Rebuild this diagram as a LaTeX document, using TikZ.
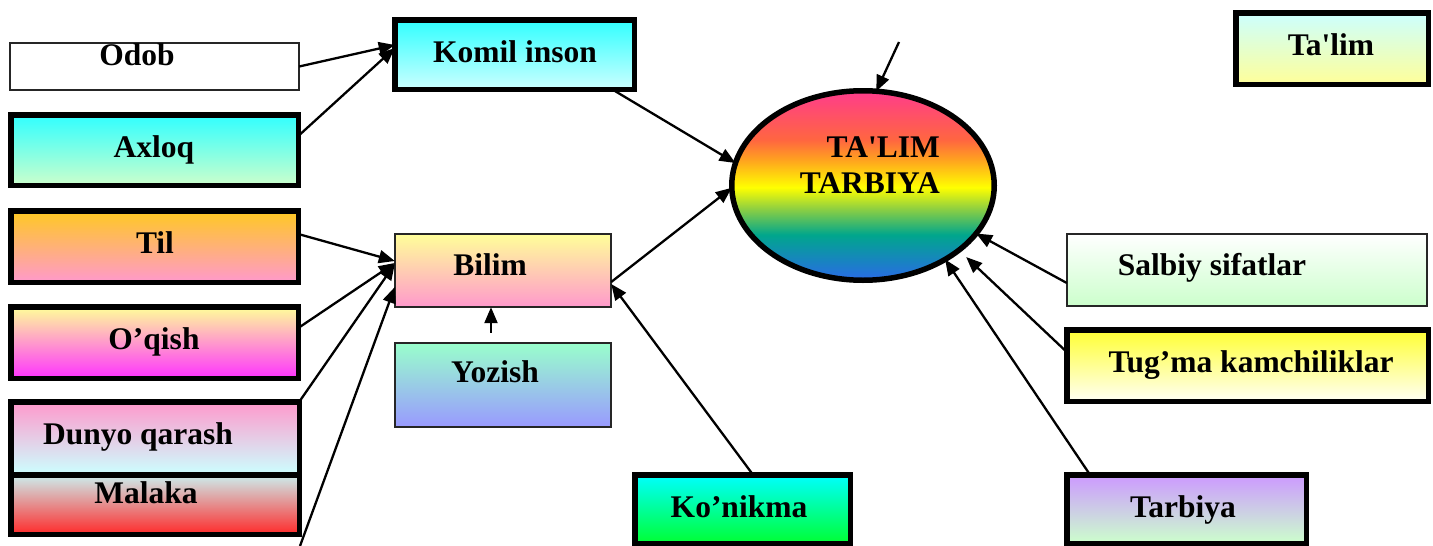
\documentclass[tikz,border=0pt]{standalone}
\usepackage{fontspec}
\setmainfont{Liberation Serif}
\usetikzlibrary{arrows.meta,shapes.geometric}

\definecolor{cCyan}{HTML}{30FFFF}
\definecolor{cLtGreen}{HTML}{CCFFCC}
\definecolor{cLtCyan}{HTML}{CCFFFF}
\definecolor{cOrYel}{HTML}{FFC922}
\definecolor{cPink}{HTML}{FF99CC}
\definecolor{cLtYel}{HTML}{FFFF99}
\definecolor{cMagenta}{HTML}{FF33FF}
\definecolor{cMalTop}{HTML}{CCEEEE}
\definecolor{cRed}{HTML}{FF2A2A}
\definecolor{cAqua}{HTML}{99FFCC}
\definecolor{cPeri}{HTML}{9999FF}
\definecolor{cKonTop}{HTML}{00FFFF}
\definecolor{cKonBot}{HTML}{00FF33}
\definecolor{cYel}{HTML}{FFFF33}
\definecolor{cWhiteish}{HTML}{FFFFF4}
\definecolor{cLav}{HTML}{CC99FF}
\definecolor{rbBlue}{HTML}{2A6AE8}
\definecolor{rbTeal}{HTML}{00A68C}
\definecolor{rbLime}{HTML}{90D040}
\definecolor{rbYellow}{HTML}{FFFF00}
\definecolor{rbOrange}{HTML}{FFA020}
\definecolor{rbRed}{HTML}{FF6640}
\definecolor{rbPink}{HTML}{FF3C8C}

\pgfdeclareverticalshading{rainbow}{100bp}{color(0bp)=(rbBlue); color(25bp)=(rbBlue); color(37bp)=(rbTeal); color(44bp)=(rbLime); color(49.5bp)=(rbYellow); color(57bp)=(rbOrange); color(62bp)=(rbRed); color(75bp)=(rbPink); color(100bp)=(rbPink)}

\begin{document}
\begin{tikzpicture}[x=1pt,y=-1pt,
  box/.style={rectangle, draw=black, inner sep=0pt, outer sep=0pt},
  thickbox/.style={box, line width=5.5pt},
  thinbox/.style={box, line width=1.6pt, draw=black!85},
  lbl/.style={font=\fontsize{31.5pt}{36pt}\selectfont\bfseries, anchor=base, inner sep=0pt},
  arr/.style={line width=2.3pt, -{Triangle[length=16pt,width=13pt]}}
]
\useasboundingbox (0,0) rectangle (1433,546);

% boxes
\node[thinbox, fill=white, minimum width=289.4pt, minimum height=47.4pt] (odob) at (154.5,66.5) {};
\node[thickbox, top color=cCyan, bottom color=cLtGreen, minimum width=287.5pt, minimum height=70.5pt] (axloq) at (154.5,150) {};
\node[thickbox, top color=cCyan, bottom color=cLtCyan, minimum width=239.5pt, minimum height=69.5pt] (komil) at (514.5,54.5) {};
\node[thickbox, top color=cOrYel, bottom color=cPink, minimum width=287.5pt, minimum height=71.5pt] (til) at (154.5,246.5) {};
\node[thickbox, top color=cLtYel, bottom color=cMagenta, minimum width=287.5pt, minimum height=71.5pt] (oqish) at (154.5,342.5) {};
\node[thickbox, top color=cPink, bottom color=cLtCyan, minimum width=288.5pt, minimum height=72.5pt] (dunyo) at (155,438) {};
\node[thickbox, top color=cMalTop, bottom color=cRed, minimum width=288.5pt, minimum height=59.5pt] (malaka) at (155,504.5) {};
\node[thinbox, top color=cLtYel, bottom color=cPink, minimum width=216.4pt, minimum height=73.4pt] (bilim) at (503,270.5) {};
\node[thinbox, top color=cAqua, bottom color=cPeri, minimum width=216.4pt, minimum height=84.4pt] (yozish) at (503,385) {};
\node[thickbox, top color=cKonTop, bottom color=cKonBot, minimum width=215.5pt, minimum height=68.5pt] (konikma) at (742.5,509) {};
\node[thickbox, top color=cLtCyan, bottom color=cLtYel, minimum width=192.5pt, minimum height=71.5pt] (talim) at (1332,48.5) {};
\node[thinbox, top color=white, bottom color=cLtGreen, minimum width=360.4pt, minimum height=72.4pt] (salbiy) at (1247,270) {};
\node[thickbox, top color=cYel, bottom color=cWhiteish, minimum width=361.5pt, minimum height=71.5pt] (tugma) at (1247.5,365.5) {};
\node[thickbox, top color=cLav, bottom color=cLtGreen, minimum width=239.5pt, minimum height=68.5pt] (tarbiya) at (1186.5,509) {};
\node[ellipse, draw=black, line width=5.5pt, shading=rainbow, inner sep=0pt, outer sep=0pt, minimum width=262.5pt, minimum height=189.5pt] (ell) at (863,185.5) {};

% free ends
\coordinate (topfree) at (899,42);
\coordinate (botfree) at (300,546);

% connectors
\draw[arr] ([yshift=0pt]odob.east) -- ([yshift=9.5pt]komil.west);
\draw[arr] ([yshift=14pt]axloq.east) -- ([yshift=6.5pt]komil.west);
\draw[arr] ([xshift=97.5pt]komil.south) -- (ell.170);
\draw[arr] ([yshift=-11.5pt]bilim.east) -- (ell.181);
\draw[arr] (topfree) -- (ell.82);
\draw[arr] ([yshift=-13pt]salbiy.west) -- (ell.-23);
\draw[arr, shorten >=10pt] ([yshift=13.5pt]tugma.west) -- (ell.-34);
\draw[arr] ([xshift=-96.5pt]tarbiya.north) -- (ell.-42);
\draw[arr] ([yshift=12.5pt]til.east) -- ([yshift=9.5pt]bilim.west);
\draw[arr] ([yshift=14.5pt]oqish.east) -- ([yshift=7.5pt]bilim.west);
\draw[arr] (dunyo.north east) -- ([yshift=6.5pt]bilim.west);
\draw[arr] (botfree) -- ([yshift=-16.5pt]bilim.west);
\draw[arr] ([xshift=10.5pt]konikma.north) -- ([yshift=-13.5pt]bilim.east);
\draw[arr] ([xshift=-12pt,yshift=10pt]yozish.north) -- ([xshift=-12pt]bilim.south);

% texts
\node[lbl] (t-odob) at (137,65) {Odob};
\node[lbl] (t-axloq) at (154,157) {Axloq};
\node[lbl] (t-komil) at (515,62) {Komil inson};
\node[lbl] (t-til) at (155,253) {Til};
\node[lbl] (t-oqish) at (154,349) {O’qish};
\node[lbl] (t-dunyo) at (138,444) {Dunyo qarash};
\node[lbl] (t-malaka) at (146,503) {Malaka};
\node[lbl] (t-bilim) at (490,275) {Bilim};
\node[lbl] (t-yozish) at (495,382) {Yozish};
\node[lbl] (t-konikma) at (739,517) {Ko’nikma};
\node[lbl] (t-tarbiya) at (1183,517) {Tarbiya};
\node[lbl] (t-talim) at (1331,55) {Ta\textquotesingle lim};
\node[lbl] (t-salbiy) at (1212,275) {Salbiy sifatlar};
\node[lbl] (t-tugma) at (1251,372) {Tug’ma kamchiliklar};
\node[lbl, anchor=base east] (t-ell1) at (940,157) {TA\textquotesingle LIM};
\node[lbl, anchor=base east] (t-ell2) at (940,193) {TARBIYA};
\end{tikzpicture}
\end{document}
